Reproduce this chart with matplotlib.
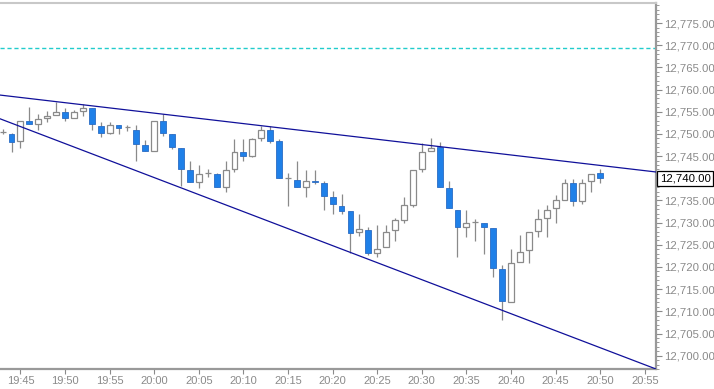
import matplotlib
matplotlib.use('Agg')
import matplotlib.pyplot as plt
from matplotlib.ticker import MultipleLocator, FuncFormatter

plt.rcParams['font.family'] = ['Liberation Sans', 'DejaVu Sans']

# 1-minute candles, 19:43 .. 20:50
times = ['19:43', '19:44', '19:45', '19:46', '19:47', '19:48', '19:49', '19:50',
         '19:51', '19:52', '19:53', '19:54', '19:55', '19:56', '19:57', '19:58',
         '19:59', '20:00', '20:01', '20:02', '20:03', '20:04', '20:05', '20:06',
         '20:07', '20:08', '20:09', '20:10', '20:11', '20:12', '20:13', '20:14',
         '20:15', '20:16', '20:17', '20:18', '20:19', '20:20', '20:21', '20:22',
         '20:23', '20:24', '20:25', '20:26', '20:27', '20:28', '20:29', '20:30',
         '20:31', '20:32', '20:33', '20:34', '20:35', '20:36', '20:37', '20:38',
         '20:39', '20:40', '20:41', '20:42', '20:43', '20:44', '20:45', '20:46',
         '20:47', '20:48', '20:49', '20:50']
opens = [12750.5, 12750.0, 12748.3, 12753.0, 12752.3, 12753.6, 12754.3, 12755.0,
         12753.7, 12755.1, 12755.8, 12751.9, 12750.2, 12752.0, 12751.5, 12750.9,
         12747.6, 12746.1, 12753.0, 12750.0, 12746.8, 12741.9, 12739.1, 12741.2,
         12741.0, 12738.0, 12742.1, 12746.0, 12745.0, 12749.1, 12750.8, 12748.4,
         12740.1, 12739.7, 12738.0, 12739.4, 12739.0, 12735.8, 12733.8, 12732.7,
         12727.8, 12728.4, 12723.1, 12724.4, 12728.4, 12730.7, 12733.9, 12742.1,
         12746.2, 12747.0, 12737.9, 12732.9, 12729.0, 12730.2, 12729.9, 12728.9,
         12719.5, 12712.2, 12721.2, 12723.8, 12728.1, 12731.1, 12733.2, 12735.2,
         12739.0, 12734.8, 12739.3, 12741.2]
highs = [12751.1, 12750.2, 12752.9, 12756.0, 12754.5, 12755.1, 12757.1, 12755.8,
         12755.5, 12756.7, 12755.8, 12752.8, 12752.8, 12752.0, 12752.1, 12752.1,
         12748.7, 12753.0, 12754.6, 12750.0, 12746.8, 12744.0, 12743.1, 12742.1,
         12741.2, 12744.0, 12748.9, 12748.9, 12749.0, 12751.9, 12751.9, 12748.9,
         12741.2, 12744.0, 12741.9, 12741.9, 12739.5, 12737.1, 12736.5, 12732.7,
         12732.0, 12729.0, 12729.4, 12729.4, 12731.1, 12735.8, 12741.9, 12748.0,
         12749.0, 12748.2, 12739.5, 12732.9, 12732.8, 12730.9, 12729.9, 12728.9,
         12720.4, 12724.0, 12727.2, 12727.9, 12733.0, 12733.9, 12736.3, 12739.9,
         12739.9, 12739.9, 12741.0, 12742.0]
lows = [12750.0, 12746.0, 12746.8, 12752.3, 12750.9, 12752.7, 12754.3, 12752.9,
        12753.7, 12754.1, 12750.9, 12749.2, 12750.0, 12750.0, 12750.6, 12743.9,
        12746.1, 12746.1, 12749.6, 12746.7, 12738.2, 12739.1, 12737.9, 12740.3,
        12738.0, 12736.9, 12741.4, 12744.0, 12744.8, 12748.4, 12747.9, 12740.1,
        12733.7, 12738.0, 12735.8, 12738.8, 12732.9, 12732.0, 12732.0, 12723.1,
        12726.9, 12722.7, 12722.3, 12724.4, 12725.8, 12730.0, 12733.5, 12741.5,
        12746.2, 12738.0, 12733.2, 12722.3, 12726.8, 12725.8, 12723.0, 12717.8,
        12708.1, 12712.2, 12721.2, 12721.0, 12726.8, 12726.8, 12730.0, 12735.0,
        12733.8, 12734.3, 12736.9, 12739.0]
closes = [12750.5, 12748.1, 12752.9, 12752.3, 12753.4, 12754.1, 12755.0, 12753.7,
          12755.0, 12755.8, 12752.3, 12750.2, 12752.0, 12751.3, 12751.5, 12747.7,
          12746.1, 12753.0, 12750.2, 12747.0, 12742.1, 12739.1, 12741.0, 12741.2,
          12738.0, 12741.9, 12746.0, 12745.0, 12748.9, 12750.8, 12748.5, 12740.1,
          12740.1, 12738.0, 12739.5, 12739.1, 12736.0, 12734.1, 12732.7, 12727.7,
          12728.5, 12723.1, 12724.0, 12728.0, 12730.6, 12733.9, 12741.9, 12746.0,
          12746.8, 12738.0, 12733.2, 12729.0, 12730.0, 12730.2, 12729.0, 12719.7,
          12712.4, 12721.0, 12723.4, 12727.9, 12730.9, 12732.9, 12735.0, 12739.0,
          12734.8, 12739.0, 12741.0, 12740.0]

# trendlines (two anchor points each) and the dashed level
upper_line = [('19:43', 12758.7), ('20:50', 12742.9)]
lower_line = [('19:43', 12753.2), ('20:50', 12701.8)]
level = 12769.3
last_price = 12740.0

tick_times = ['19:45', '19:50', '19:55', '20:00', '20:05', '20:10', '20:15', '20:20',
              '20:25', '20:30', '20:35', '20:40', '20:45', '20:50', '20:55']


def to_min(t):
    h, m = t.split(':')
    return (int(h) - 19) * 60 + int(m) - 45


def price_fmt(v, pos):
    # the last-price box sits on top of this level
    if abs(v - last_price) < 0.01:
        return ''
    return '{:,.2f}'.format(v)


x = [to_min(t) for t in times]

fig = plt.figure(figsize=(7.14, 3.89), dpi=100)
ax = fig.add_axes([0.0, 0.0514, 0.9188, 0.9406])

gray = '#8a8a8a'
blue = '#1f80e8'
w = 0.66

for xi, o, h, l, c in zip(x, opens, highs, lows, closes):
    ax.vlines(xi, l, h, color=gray, lw=0.9, zorder=2)
    if c >= o:
        ax.bar(xi, max(c - o, 0.0001), bottom=o, width=w, facecolor='white',
               edgecolor=gray, lw=0.9, zorder=3)
    else:
        ax.bar(xi, o - c, bottom=c, width=w, facecolor=blue,
               edgecolor='#2a6cc4', lw=0.6, zorder=3)

for line in (upper_line, lower_line):
    (t1, p1), (t2, p2) = line
    ax.axline((to_min(t1), p1), (to_min(t2), p2), color='#10109a', lw=0.9, zorder=4)

ax.axhline(level, color='#22cccc', lw=1.0, ls=(0, (3, 2)), zorder=1)

ax.set_xlim(-2.29, 71.26)
ax.set_ylim(12697.0, 12779.5)

ax.set_xticks([to_min(t) for t in tick_times])
ax.set_xticklabels(tick_times)
ax.yaxis.tick_right()
ax.yaxis.set_major_locator(MultipleLocator(5))
ax.yaxis.set_minor_locator(MultipleLocator(1))
ax.yaxis.set_major_formatter(FuncFormatter(price_fmt))
ax.tick_params(axis='both', which='major', colors=gray, labelsize=8.2,
               length=4, width=0.8, pad=2)
ax.tick_params(axis='y', which='minor', colors=gray, length=2, width=0.6)
ax.tick_params(axis='x', labelsize=8, length=3.5, pad=1.5)

ax.spines['left'].set_visible(False)
ax.spines['top'].set_color('#c8c8c8')
ax.spines['top'].set_linewidth(1.5)
for s in ('right', 'bottom'):
    ax.spines[s].set_color('#999999')
    ax.spines[s].set_linewidth(1.6)

ax.text(1.006, last_price, '{:,.2f}'.format(last_price), transform=ax.get_yaxis_transform(),
        ha='left', va='center', fontsize=8.2, color='black',
        bbox=dict(boxstyle='square,pad=0.22', fc='white', ec='black', lw=0.9))

plt.savefig('out.png', dpi=100)
